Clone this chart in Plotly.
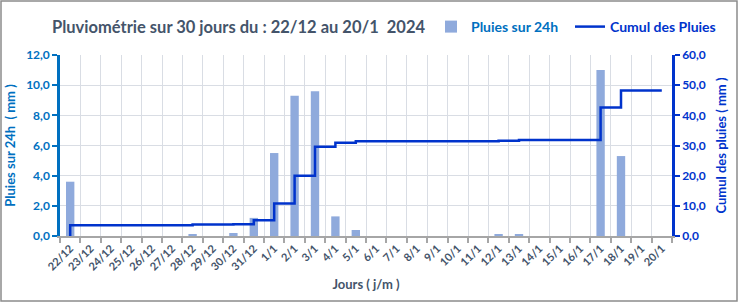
import plotly.graph_objects as go

days = ["22/12", "23/12", "24/12", "25/12", "26/12", "27/12", "28/12", "29/12", "30/12", "31/12",
        "1/1", "2/1", "3/1", "4/1", "5/1", "6/1", "7/1", "8/1", "9/1", "10/1",
        "11/1", "12/1", "13/1", "14/1", "15/1", "16/1", "17/1", "18/1", "19/1", "20/1"]
rain = [3.6, 0, 0, 0, 0, 0, 0.1, 0, 0.2, 1.2,
        5.5, 9.3, 9.6, 1.3, 0.4, 0, 0, 0, 0, 0,
        0, 0.1, 0.1, 0, 0, 0, 11.0, 5.3, 0, 0]
cumul = [3.6, 3.6, 3.6, 3.6, 3.6, 3.6, 3.8, 3.8, 3.9, 5.2,
         10.8, 20.0, 29.6, 30.9, 31.4, 31.4, 31.4, 31.4, 31.4, 31.4,
         31.4, 31.6, 31.8, 31.8, 31.8, 31.8, 42.6, 48.2, 48.2, 48.2]

FONT = "Lato"
GRID = "#d9dde4"
C_LEFT = "#0070c0"
C_RIGHT = "#0033cc"
C_TEXT = "#44546a"

fig = go.Figure()
fig.add_bar(x=days, y=rain, name="Pluies sur 24h", legend="legend",
            marker=dict(color="#8faadc", line=dict(width=0)), yaxis="y")
fig.add_scatter(x=[days[0]] + days, y=[0] + cumul, mode="lines",
                name="Cumul des Pluies", legend="legend2",
                line=dict(color=C_RIGHT, width=2.5, shape="hv"), yaxis="y2")

L, R, T, B = 60, 67, 55, 67
W, H = 739, 303
pw, ph = W - L - R, H - T - B
leg_y = (H - B - 27) / ph

fig.update_layout(
    width=W, height=H,
    margin=dict(l=L, r=R, t=T, b=B, autoexpand=False),
    paper_bgcolor="white", plot_bgcolor="white",
    separators=", ",
    font=dict(family=FONT, color=C_TEXT, size=11),
    bargap=0.59,
    showlegend=True,
    legend=dict(orientation="h", x=(431 - L) / pw, xanchor="left", y=leg_y, yanchor="middle",
                font=dict(family=FONT, size=14, weight="bold", color=C_LEFT),
                bgcolor="rgba(0,0,0,0)", itemwidth=30),
    legend2=dict(orientation="h", x=(570 - L) / pw, xanchor="left", y=leg_y, yanchor="middle",
                 font=dict(family=FONT, size=14, weight="bold", color=C_RIGHT),
                 bgcolor="rgba(0,0,0,0)", itemwidth=30),
    title=dict(text="Pluviométrie sur 30 jours du : 22/12 au 20/1  2024",
               x=52 / W, xanchor="left", y=1 - 27 / H, yanchor="middle",
               font=dict(family=FONT, size=16.5, color=C_TEXT, weight="bold")),
    xaxis=dict(type="category", tickson="boundaries", showgrid=True, gridcolor=GRID, gridwidth=1,
               showline=True, linecolor="#a6a6a6", linewidth=2,
               ticks="outside", ticklen=5, tickcolor="#a6a6a6", tickwidth=2,
               tickangle=-45, tickfont=dict(family=FONT, size=11, color=C_TEXT, weight="bold"),
               title=dict(text="Jours ( j/m )", standoff=8,
                          font=dict(family=FONT, size=13, color=C_TEXT, weight="bold")),
               range=[-0.5, 29.5], zeroline=False),
    yaxis=dict(range=[0, 12], dtick=2, tickformat=".1f", showgrid=True, gridcolor=GRID,
               showline=True, linecolor=C_LEFT, linewidth=2.5,
               ticks="outside", ticklen=5, tickcolor=C_LEFT, tickwidth=2,
               tickfont=dict(family=FONT, size=12, color=C_LEFT, weight="bold"),
               title=dict(text="Pluies sur 24h  ( mm )", standoff=8,
                          font=dict(family=FONT, size=13, color=C_LEFT, weight="bold")),
               zeroline=False),
    yaxis2=dict(range=[0, 60], dtick=10, tickformat=".1f", overlaying="y", side="right",
                showgrid=False, showline=True, linecolor=C_RIGHT, linewidth=2.5,
                ticks="outside", ticklen=5, tickcolor=C_RIGHT, tickwidth=2,
                tickfont=dict(family=FONT, size=12, color=C_RIGHT, weight="bold"),
                title=dict(text="Cumul des pluies ( mm )", standoff=13,
                           font=dict(family=FONT, size=13, color=C_RIGHT, weight="bold")),
                zeroline=False),
    shapes=[dict(type="rect", xref="paper", yref="paper",
                 x0=(1 - L) / pw, x1=(737 - L) / pw,
                 y0=(H - B - 301) / ph, y1=(H - B - 1) / ph,
                 line=dict(color="#8c8c8c", width=1.5), fillcolor="rgba(0,0,0,0)", layer="below")],
)

fig.write_html("out.html")
